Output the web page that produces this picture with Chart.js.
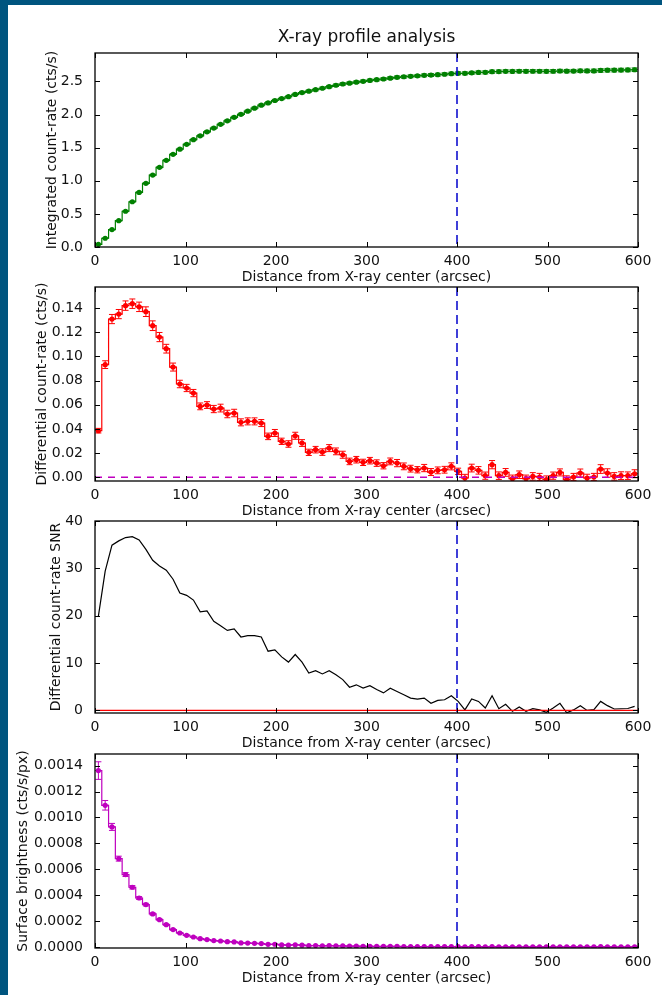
<!DOCTYPE html>
<html>
<head>
<meta charset="utf-8">
<script src="https://cdn.jsdelivr.net/npm/chart.js@4.4.1/dist/chart.umd.min.js"></script>
<style>
  html, body { margin: 0; padding: 0; }
  body { width: 662px; height: 995px; background: #00557f; position: relative; overflow: hidden; }
  #sheet { position: absolute; left: 8px; top: 5px; width: 654px; height: 990px; background: #fff; }
  canvas { position: absolute; left: 0; }
</style>
</head>
<body>
<div id="sheet"></div>
<canvas id="c1"></canvas>
<canvas id="c2"></canvas>
<canvas id="c3"></canvas>
<canvas id="c4"></canvas>
<script>
// radial bins (arcsec), 7.5" wide
const binCenters = [3.75, 11.25, 18.75, 26.25, 33.75, 41.25, 48.75, 56.25, 63.75, 71.25,
  78.75, 86.25, 93.75, 101.25, 108.75, 116.25, 123.75, 131.25, 138.75, 146.25,
  153.75, 161.25, 168.75, 176.25, 183.75, 191.25, 198.75, 206.25, 213.75, 221.25,
  228.75, 236.25, 243.75, 251.25, 258.75, 266.25, 273.75, 281.25, 288.75, 296.25,
  303.75, 311.25, 318.75, 326.25, 333.75, 341.25, 348.75, 356.25, 363.75, 371.25,
  378.75, 386.25, 393.75, 401.25, 408.75, 416.25, 423.75, 431.25, 438.75, 446.25,
  453.75, 461.25, 468.75, 476.25, 483.75, 491.25, 498.75, 506.25, 513.75, 521.25,
  528.75, 536.25, 543.75, 551.25, 558.75, 566.25, 573.75, 581.25, 588.75, 596.25];
const binHalfWidth = 3.75;
const cutRadius = 400;

const integratedRate = [0.0386, 0.1318, 0.2627, 0.3977, 0.5397, 0.6833, 0.8243, 0.9613, 1.0867, 1.2027,
  1.3091, 1.4003, 1.4775, 1.5514, 1.6211, 1.6798, 1.7396, 1.7961, 1.8534, 1.9058,
  1.9590, 2.0045, 2.0508, 2.0971, 2.1420, 2.1759, 2.2126, 2.2424, 2.2700, 2.3044,
  2.3328, 2.3535, 2.3764, 2.3973, 2.4215, 2.4430, 2.4617, 2.4749, 2.4895, 2.5019,
  2.5157, 2.5275, 2.5371, 2.5503, 2.5621, 2.5712, 2.5784, 2.5847, 2.5924, 2.5968,
  2.6026, 2.6089, 2.6180, 2.6230, 2.6225, 2.6302, 2.6360, 2.6374, 2.6479, 2.6493,
  2.6534, 2.6523, 2.6545, 2.6534, 2.6542, 2.6545, 2.6526, 2.6540, 2.6581, 2.6562,
  2.6565, 2.6601, 2.6596, 2.6599, 2.6668, 2.6704, 2.6712, 2.6726, 2.6740, 2.6770];
const integratedErr = [0.0019, 0.0037, 0.0053, 0.0065, 0.0076, 0.0085, 0.0094, 0.0102, 0.0110, 0.0116,
  0.0121, 0.0125, 0.0129, 0.0132, 0.0136, 0.0139, 0.0141, 0.0144, 0.0148, 0.0151,
  0.0154, 0.0157, 0.0159, 0.0162, 0.0164, 0.0167, 0.0169, 0.0171, 0.0173, 0.0176,
  0.0178, 0.0180, 0.0182, 0.0184, 0.0186, 0.0188, 0.0190, 0.0192, 0.0194, 0.0195,
  0.0197, 0.0199, 0.0200, 0.0202, 0.0204, 0.0206, 0.0207, 0.0209, 0.0211, 0.0213,
  0.0214, 0.0216, 0.0218, 0.0219, 0.0221, 0.0223, 0.0225, 0.0227, 0.0229, 0.0231,
  0.0233, 0.0235, 0.0237, 0.0239, 0.0241, 0.0243, 0.0245, 0.0247, 0.0249, 0.0251,
  0.0253, 0.0255, 0.0257, 0.0259, 0.0261, 0.0263, 0.0265, 0.0268, 0.0270, 0.0272];

const diffRate = [0.0386, 0.0932, 0.1309, 0.1350, 0.1420, 0.1436, 0.1410, 0.1370, 0.1254, 0.1160,
  0.1064, 0.0912, 0.0772, 0.0739, 0.0697, 0.0587, 0.0598, 0.0565, 0.0573, 0.0524,
  0.0532, 0.0455, 0.0463, 0.0463, 0.0449, 0.0339, 0.0367, 0.0298, 0.0276, 0.0344,
  0.0284, 0.0207, 0.0229, 0.0209, 0.0242, 0.0215, 0.0187, 0.0132, 0.0146, 0.0124,
  0.0138, 0.0118, 0.0096, 0.0132, 0.0118, 0.0091, 0.0072, 0.0063, 0.0077, 0.0044,
  0.0058, 0.0063, 0.0091, 0.0050, -0.0005, 0.0077, 0.0058, 0.0014, 0.0105, 0.0014,
  0.0041, -0.0011, 0.0022, -0.0011, 0.0008, 0.0003, -0.0019, 0.0014, 0.0041, -0.0019,
  0.0003, 0.0036, -0.0005, 0.0003, 0.0069, 0.0036, 0.0008, 0.0014, 0.0014, 0.0030];
const diffErr = [0.0019, 0.0032, 0.0038, 0.0038, 0.0039, 0.0039, 0.0039, 0.0040, 0.0040, 0.0038,
  0.0036, 0.0033, 0.0031, 0.0030, 0.0030, 0.0028, 0.0028, 0.0030, 0.0032, 0.0031,
  0.0031, 0.0029, 0.0029, 0.0029, 0.0029, 0.0027, 0.0029, 0.0026, 0.0027, 0.0029,
  0.0028, 0.0026, 0.0027, 0.0027, 0.0029, 0.0028, 0.0029, 0.0027, 0.0027, 0.0026,
  0.0027, 0.0027, 0.0026, 0.0028, 0.0030, 0.0028, 0.0028, 0.0026, 0.0030, 0.0029,
  0.0028, 0.0028, 0.0029, 0.0026, 0.0030, 0.0032, 0.0031, 0.0030, 0.0034, 0.0031,
  0.0032, 0.0030, 0.0031, 0.0030, 0.0031, 0.0030, 0.0031, 0.0030, 0.0029, 0.0032,
  0.0030, 0.0033, 0.0031, 0.0030, 0.0036, 0.0035, 0.0031, 0.0032, 0.0031, 0.0033];

const diffSnr = [19.9, 29.4, 34.9, 35.8, 36.5, 36.7, 36.0, 34.0, 31.7, 30.5,
  29.6, 27.7, 24.8, 24.3, 23.3, 20.8, 21.0, 18.8, 17.9, 16.9,
  17.2, 15.5, 15.8, 15.8, 15.5, 12.5, 12.8, 11.3, 10.2, 11.8,
  10.2, 7.9, 8.4, 7.7, 8.4, 7.55, 6.5, 4.9, 5.4, 4.7,
  5.2, 4.4, 3.7, 4.7, 4.0, 3.3, 2.6, 2.4, 2.6, 1.5,
  2.1, 2.25, 3.1, 1.9, 0.1, 2.4, 1.9, 0.5, 3.1, 0.35,
  1.3, -0.2, 0.7, -0.2, 0.35, 0.1, -0.4, 0.5, 1.5, -0.5,
  0.1, 1.0, 0.0, 0.15, 1.9, 1.0, 0.3, 0.35, 0.4, 0.85];

const surfBright = [0.001362, 0.001094, 0.000927, 0.000682, 0.000559, 0.000461, 0.000378, 0.000327, 0.000255, 0.000211,
  0.000172, 0.000134, 0.000108, 0.000090, 0.000077, 0.000064, 0.000057, 0.000049, 0.000046, 0.000041,
  0.000039, 0.000031, 0.000030, 0.000028, 0.000026, 0.000020, 0.000021, 0.000016, 0.000014, 0.000017,
  0.000014, 0.000010, 0.000011, 0.000009, 0.000010, 0.000009, 0.000008, 0.000006, 0.000006, 0.000005,
  0.000005, 0.000004, 0.000004, 0.000005, 0.000004, 0.000003, 0.000003, 0.000002, 0.000003, 0.000002,
  0.000002, 0.000002, 0.000003, 0.000002, 0.000000, 0.000002, 0.000002, 0.000000, 0.000003, 0.000000,
  0.000001, 0.000000, 0.000001, 0.000000, 0.000000, 0.000000, 0.000000, 0.000000, 0.000001, 0.000000,
  0.000000, 0.000001, 0.000000, 0.000000, 0.000002, 0.000001, 0.000000, 0.000000, 0.000000, 0.000001];
const surfBrightErr = [0.000068, 0.000037, 0.000027, 0.000019, 0.000015, 0.000013, 0.000011, 0.000010, 0.000008, 0.000007,
  0.000006, 0.000005, 0.000004, 0.000004, 0.000003, 0.000003, 0.000003, 0.000003, 0.000003, 0.000003,
  0.000003, 0.000002, 0.000002, 0.000002, 0.000002, 0.000002, 0.000002, 0.000002, 0.000002, 0.000002,
  0.000002, 0.000002, 0.000002, 0.000001, 0.000002, 0.000001, 0.000001, 0.000001, 0.000001, 0.000001,
  0.000001, 0.000001, 0.000001, 0.000001, 0.000001, 0.000001, 0.000001, 0.000001, 0.000001, 0.000001,
  0.000001, 0.000001, 0.000001, 0.000001, 0.000001, 0.000001, 0.000001, 0.000001, 0.000001, 0.000001,
  0.000001, 0.000001, 0.000001, 0.000001, 0.000001, 0.000001, 0.000001, 0.000001, 0.000001, 0.000001,
  0.000001, 0.000001, 0.000001, 0.000001, 0.000001, 0.000001, 0.000001, 0.000001, 0.000001, 0.000001];

// tick labels
const xTicks = [0, 100, 200, 300, 400, 500, 600];
const integratedTicks = [0, 0.5, 1.0, 1.5, 2.0, 2.5];
const diffTicks = [0, 0.02, 0.04, 0.06, 0.08, 0.10, 0.12, 0.14];
const snrTicks = [0, 10, 20, 30, 40];
const sbTicks = [0, 0.0002, 0.0004, 0.0006, 0.0008, 0.0010, 0.0012, 0.0014];

const FONT = 'DejaVu Sans';
Chart.defaults.font.family = FONT;
Chart.defaults.font.size = 14;
Chart.defaults.color = '#111';

const errorBars = {
  id: 'errorBars',
  afterDatasetsDraw(chart) {
    const {ctx, chartArea: a, scales: {x, y}} = chart;
    ctx.save();
    ctx.beginPath();
    ctx.rect(a.left, a.top, a.width, a.height);
    ctx.clip();
    chart.data.datasets.forEach(ds => {
      if (!ds.yErr) return;
      ctx.strokeStyle = ds.borderColor;
      ctx.lineWidth = 1;
      ctx.beginPath();
      ds.data.forEach((p, i) => {
        const px = x.getPixelForValue(p.x), py = y.getPixelForValue(p.y);
        const lo = y.getPixelForValue(p.y - ds.yErr[i]);
        const hi = y.getPixelForValue(p.y + ds.yErr[i]);
        ctx.moveTo(px, lo); ctx.lineTo(px, hi);
        ctx.moveTo(px - 3, lo); ctx.lineTo(px + 3, lo);
        ctx.moveTo(px - 3, hi); ctx.lineTo(px + 3, hi);
        ctx.moveTo(x.getPixelForValue(p.x - binHalfWidth), py);
        ctx.lineTo(x.getPixelForValue(p.x + binHalfWidth), py);
      });
      ctx.stroke();
    });
    ctx.restore();
  }
};

const refLines = {
  id: 'refLines',
  afterDatasetsDraw(chart, args, opts) {
    const {ctx, chartArea: a, scales: {x, y}} = chart;
    ctx.save();
    (opts.lines || []).forEach(l => {
      ctx.strokeStyle = l.color;
      ctx.lineWidth = l.width;
      ctx.setLineDash(l.dash || []);
      ctx.beginPath();
      if (l.axis === 'x') {
        const px = x.getPixelForValue(l.value);
        ctx.moveTo(px, a.top); ctx.lineTo(px, a.bottom);
      } else {
        const py = y.getPixelForValue(l.value);
        ctx.moveTo(a.left, py); ctx.lineTo(a.right, py);
      }
      ctx.stroke();
    });
    ctx.restore();
  }
};

// matplotlib-like frame with inward ticks on all four sides
const frame = {
  id: 'frame',
  afterDraw(chart) {
    const {ctx, chartArea: a, scales: {x, y}} = chart;
    ctx.save();
    ctx.strokeStyle = '#000';
    ctx.lineWidth = 1;
    ctx.beginPath();
    x.ticks.forEach(t => {
      const px = Math.round(x.getPixelForValue(t.value)) + 0.5;
      ctx.moveTo(px, a.bottom); ctx.lineTo(px, a.bottom - 5);
      ctx.moveTo(px, a.top); ctx.lineTo(px, a.top + 5);
    });
    y.ticks.forEach(t => {
      const py = Math.round(y.getPixelForValue(t.value)) + 0.5;
      ctx.moveTo(a.left, py); ctx.lineTo(a.left + 5, py);
      ctx.moveTo(a.right, py); ctx.lineTo(a.right - 5, py);
    });
    ctx.stroke();
    ctx.lineWidth = 1.3;
    ctx.strokeRect(a.left, a.top, a.width, a.height);
    ctx.restore();
  }
};

const cutLine = {axis: 'x', value: cutRadius, color: '#0000cc', width: 1.5, dash: [9, 5]};

function panel(id, p) {
  const top = p.title ? 0 : p.plotTop - 20;
  const el = document.getElementById(id);
  el.width = 662;
  el.height = p.plotBottom + 42 - top;
  el.style.top = top + 'px';
  el.style.width = '662px';
  el.style.height = el.height + 'px';

  const data = binCenters.map((x, i) => ({x: x, y: p.values[i]}));
  new Chart(el, {
    type: 'line',
    data: {
      datasets: [{
        data: data,
        yErr: p.errors,
        borderColor: p.color,
        backgroundColor: p.color,
        borderWidth: 1.2,
        stepped: p.stepped ? 'middle' : false,
        pointRadius: p.points ? 2.6 : 0,
        pointBorderWidth: 0,
        pointBackgroundColor: p.color,
        fill: false
      }]
    },
    options: {
      responsive: false,
      animation: false,
      events: [],
      layout: {padding: {left: 0, right: 24, top: p.title ? 0 : p.plotTop - top, bottom: 0}},
      plugins: {
        legend: {display: false},
        tooltip: {enabled: false},
        title: p.title ? {
          display: true, text: p.title, fullSize: false,
          font: {family: FONT, size: 17, weight: 'normal'}, color: '#111',
          padding: {top: 27, bottom: p.plotTop - 27 - 20.4}
        } : {display: false},
        refLines: {lines: p.lines}
      },
      scales: {
        x: {
          type: 'linear', min: 0, max: 600,
          grid: {display: false}, border: {display: false},
          afterBuildTicks: s => { s.ticks = xTicks.map(v => ({value: v})); },
          afterFit: s => { s.height = 42; },
          ticks: {padding: -2, autoSkip: false, maxRotation: 0, callback: v => String(v)},
          title: {display: true, text: 'Distance from X-ray center (arcsec)',
                  font: {size: 14}, padding: {top: 0, bottom: 3}}
        },
        y: {
          type: 'linear', min: p.yMin, max: p.yMax,
          grid: {display: false}, border: {display: false},
          afterBuildTicks: s => { s.ticks = p.ticks.map(v => ({value: v})); },
          afterFit: s => { s.width = 95; },
          ticks: {padding: 4, autoSkip: false, callback: v => v.toFixed(p.decimals)},
          title: {display: true, text: p.yTitle, font: {size: 14},
                  padding: {top: p.yTitleX - 8.4, bottom: 0}}
        }
      }
    },
    plugins: [errorBars, refLines, frame]
  });
}

panel('c1', {
  title: 'X-ray profile analysis', plotTop: 53, plotBottom: 247,
  values: integratedRate, errors: integratedErr, color: '#008000', stepped: true, points: true,
  yMin: 0, yMax: 2.93, ticks: integratedTicks, decimals: 1,
  yTitle: 'Integrated count-rate (cts/s)', yTitleX: 52,
  lines: [cutLine]
});

panel('c2', {
  plotTop: 287, plotBottom: 481,
  values: diffRate, errors: diffErr, color: '#ff0000', stepped: true, points: true,
  yMin: -0.003, yMax: 0.1574, ticks: diffTicks, decimals: 2,
  yTitle: 'Differential count-rate (cts/s)', yTitleX: 42,
  lines: [cutLine, {axis: 'y', value: 0, color: '#bf00bf', width: 1.5, dash: [7, 6]}]
});

panel('c3', {
  plotTop: 521, plotBottom: 713,
  values: diffSnr, errors: null, color: '#000000', stepped: false, points: false,
  yMin: -0.55, yMax: 40, ticks: snrTicks, decimals: 0,
  yTitle: 'Differential count-rate SNR', yTitleX: 56,
  lines: [cutLine, {axis: 'y', value: 0, color: '#ff0000', width: 1.2}]
});

panel('c4', {
  plotTop: 754, plotBottom: 948,
  values: surfBright, errors: surfBrightErr, color: '#bf00bf', stepped: true, points: true,
  yMin: -0.000008, yMax: 0.00149, ticks: sbTicks, decimals: 4,
  yTitle: 'Surface brightness (cts/s/px)', yTitleX: 23,
  lines: [cutLine]
});
</script>
</body>
</html>
